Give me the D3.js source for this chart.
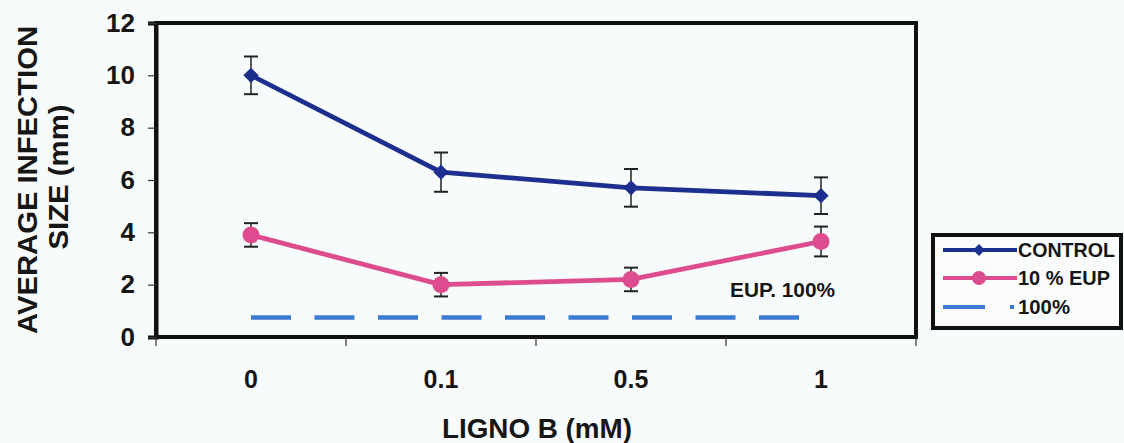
<!DOCTYPE html>
<html>
<head>
<meta charset="utf-8">
<script src="https://cdn.jsdelivr.net/npm/d3@7"></script>
<style>
  html, body { margin: 0; padding: 0; background: #f8fbfb; }
  svg { display: block; font-family: "Liberation Sans", Arial, sans-serif; font-weight: bold; }
</style>
</head>
<body>
<svg id="chart" width="1124" height="443"></svg>
<script>
// Lignin B concentration (mM) and mean infection size (mm) with error
const categories = ["0", "0.1", "0.5", "1"];
const controlValues = [10.0, 6.3, 5.7, 5.4];
const controlErrors = [0.72, 0.75, 0.72, 0.7];
const eupValues = [3.9, 2.0, 2.2, 3.65];
const eupErrors = [0.45, 0.45, 0.45, 0.57];
const eup100Value = 0.75;
const yTicks = [0, 2, 4, 6, 8, 10, 12];

const svg = d3.select("#chart");
const plotLeft = 156, plotRight = 916, plotTop = 23, plotBottom = 337;

const x = d3.scaleBand().domain(categories).range([plotLeft, plotRight]);
const y = d3.scaleLinear().domain([0, 12]).range([plotBottom, plotTop]);

const blue = "#1c2f8e", pink = "#dc4c8e", light = "#3b7bd2";
const ink = "#161616";

// plot frame
svg.append("rect")
  .attr("x", plotLeft).attr("y", plotTop)
  .attr("width", plotRight - plotLeft).attr("height", plotBottom - plotTop)
  .attr("fill", "none").attr("stroke", "#111").attr("stroke-width", 4);

// y axis
const yAxis = svg.append("g")
  .attr("transform", `translate(${plotLeft},0)`)
  .call(d3.axisLeft(y).tickValues(yTicks).tickSize(8).tickPadding(13));
yAxis.select(".domain").attr("stroke", "#111").attr("stroke-width", 4);
yAxis.selectAll(".tick line").attr("stroke", "#333").attr("stroke-width", 1.2);
yAxis.selectAll(".tick text")
  .style("font-size", "26px").style("font-weight", "bold")
  .attr("fill", ink).attr("font-family", "Liberation Sans, Arial, sans-serif");

// x axis: ticks at band boundaries, labels at centres
const xb = svg.append("g").attr("transform", `translate(0,${plotBottom})`);
xb.append("line").attr("x1", plotLeft).attr("x2", plotRight).attr("stroke", "#111").attr("stroke-width", 4);
const bounds = categories.map(c => x(c)).concat([plotRight]);
xb.selectAll("line.tk").data(bounds).join("line").attr("class", "tk")
  .attr("x1", d => d).attr("x2", d => d).attr("y1", 0).attr("y2", 9)
  .attr("stroke", "#333").attr("stroke-width", 1.2);
xb.selectAll("text").data(categories).join("text")
  .attr("x", d => x(d) + x.bandwidth() / 2).attr("y", 51)
  .attr("text-anchor", "middle").style("font-size", "25px").attr("fill", ink)
  .text(d => d);

const cx = d => x(d) + x.bandwidth() / 2;

// 100% EUP reference line
svg.append("line")
  .attr("x1", cx(categories[0])).attr("x2", cx(categories[3]) + 1)
  .attr("y1", y(eup100Value)).attr("y2", y(eup100Value))
  .attr("stroke", light).attr("stroke-width", 4.5)
  .attr("stroke-dasharray", "40,23.5");
svg.append("text").attr("x", 730).attr("y", 297)
  .attr("font-size", 20).attr("fill", ink)
  .attr("textLength", 105).attr("lengthAdjust", "spacingAndGlyphs").text("EUP. 100%");

function drawSeries(values, errors, color, marker) {
  const line = d3.line().x((d, i) => cx(categories[i])).y(d => y(d));
  svg.append("path").datum(values).attr("d", line)
    .attr("fill", "none").attr("stroke", color).attr("stroke-width", 4.8)
    .attr("stroke-linejoin", "round");
  const g = svg.append("g");
  values.forEach((v, i) => {
    const px = cx(categories[i]);
    const e = errors[i];
    g.append("line").attr("x1", px).attr("x2", px).attr("y1", y(v + e)).attr("y2", y(v - e))
      .attr("stroke", "#222").attr("stroke-width", 1.5);
    [v + e, v - e].forEach(t => g.append("line")
      .attr("x1", px - 7).attr("x2", px + 7).attr("y1", y(t)).attr("y2", y(t))
      .attr("stroke", "#222").attr("stroke-width", 2));
    if (marker === "diamond") {
      g.append("path").attr("d", d3.symbol(d3.symbolDiamond2, 150)())
        .attr("transform", `translate(${px},${y(v)})`).attr("fill", color);
    } else {
      g.append("circle").attr("cx", px).attr("cy", y(v)).attr("r", 8.5).attr("fill", color);
    }
  });
}
drawSeries(controlValues, controlErrors, blue, "diamond");
drawSeries(eupValues, eupErrors, pink, "circle");

// axis titles
svg.append("text").attr("x", 537).attr("y", 438).attr("text-anchor", "middle")
  .attr("font-size", 27).attr("fill", ink)
  .attr("textLength", 190).attr("lengthAdjust", "spacingAndGlyphs").text("LIGNO B (mM)");
const yt = svg.append("g").attr("transform", "translate(0,180) rotate(-90)");
yt.append("text").attr("x", 0).attr("y", 37).attr("text-anchor", "middle")
  .attr("font-size", 27).attr("fill", ink)
  .attr("textLength", 308).attr("lengthAdjust", "spacingAndGlyphs").text("AVERAGE INFECTION");
yt.append("text").attr("x", 3).attr("y", 68).attr("text-anchor", "middle")
  .attr("font-size", 27).attr("fill", ink)
  .attr("textLength", 145).attr("lengthAdjust", "spacingAndGlyphs").text("SIZE (mm)");

// legend
const lg = svg.append("g");
lg.append("rect").attr("x", 933).attr("y", 235).attr("width", 188).attr("height", 93)
  .attr("fill", "#fafcfc").attr("stroke", "#111").attr("stroke-width", 4);
const items = [
  { label: "CONTROL", color: blue, marker: "diamond", yy: 250, w: 97 },
  { label: "10 % EUP", color: pink, marker: "circle", yy: 278, w: 92 },
  { label: "100%", color: light, marker: "dash", yy: 307, w: 52 }
];
items.forEach(it => {
  if (it.marker === "dash") {
    lg.append("line").attr("x1", 943).attr("x2", 985).attr("y1", it.yy).attr("y2", it.yy)
      .attr("stroke", it.color).attr("stroke-width", 4);
    lg.append("rect").attr("x", 1010).attr("y", it.yy - 2).attr("width", 4).attr("height", 4).attr("fill", it.color);
  } else {
    lg.append("line").attr("x1", 943).attr("x2", 1017).attr("y1", it.yy).attr("y2", it.yy)
      .attr("stroke", it.color).attr("stroke-width", 4);
    if (it.marker === "diamond") {
      lg.append("path").attr("d", d3.symbol(d3.symbolDiamond2, 90)())
        .attr("transform", `translate(979,${it.yy})`).attr("fill", it.color);
    } else {
      lg.append("circle").attr("cx", 979).attr("cy", it.yy).attr("r", 7).attr("fill", it.color);
    }
  }
  lg.append("text").attr("x", 1018).attr("y", it.yy + 7).attr("font-size", 20)
    .attr("fill", ink).attr("textLength", it.w).attr("lengthAdjust", "spacingAndGlyphs").text(it.label);
});
</script>
</body>
</html>
